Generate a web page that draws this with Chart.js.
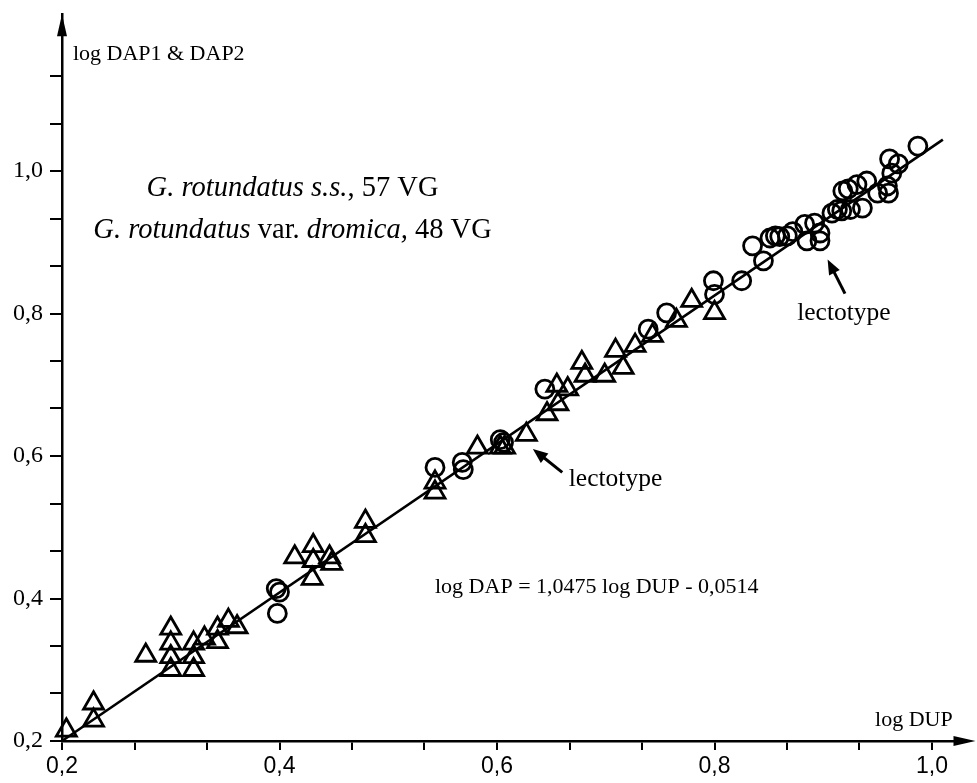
<!DOCTYPE html>
<html><head><meta charset="utf-8">
<script src="https://cdn.jsdelivr.net/npm/chart.js@4.4.0/dist/chart.umd.min.js"></script>
<style>html,body{margin:0;padding:0;background:#fff}#wrap{width:977px;height:783px;position:relative}</style>
</head><body><div id="wrap"><canvas id="c" width="977" height="783"></canvas></div>
<script>
// Circles (open)
const circleX = [0.397,0.400,0.398,0.543,0.568,0.569,0.603,0.606,0.644,0.739,0.756,0.799,0.800,0.825,0.835,0.845,0.851,0.856,0.860,0.867,0.872,0.883,0.885,0.892,0.897,0.897,0.908,0.913,0.917,0.925,0.936,0.918,0.923,0.931,0.940,0.950,0.959,0.960,0.963,0.961,0.969,0.987];
const circleY = [0.414,0.409,0.379,0.584,0.591,0.581,0.623,0.619,0.694,0.778,0.801,0.846,0.827,0.846,0.895,0.874,0.906,0.909,0.908,0.909,0.915,0.925,0.902,0.927,0.913,0.902,0.941,0.946,0.944,0.946,0.948,0.972,0.975,0.981,0.986,0.969,0.979,0.969,0.997,1.017,1.010,1.035];
// Triangles (open)
const triX = [0.204,0.229,0.229,0.277,0.300,0.300,0.300,0.300,0.321,0.321,0.321,0.331,0.343,0.343,0.353,0.361,0.414,0.431,0.431,0.430,0.446,0.448,0.479,0.479,0.543,0.543,0.582,0.603,0.607,0.627,0.646,0.655,0.656,0.665,0.678,0.681,0.699,0.709,0.716,0.727,0.743,0.765,0.779,0.800];
const triY = [0.215,0.253,0.229,0.320,0.358,0.337,0.318,0.300,0.337,0.318,0.300,0.344,0.358,0.339,0.369,0.360,0.458,0.474,0.453,0.428,0.458,0.449,0.508,0.488,0.563,0.549,0.612,0.612,0.612,0.630,0.659,0.699,0.673,0.694,0.731,0.713,0.713,0.748,0.724,0.755,0.769,0.790,0.818,0.801];
// Regression line as drawn
const fitX = [0.2, 1.01];
const fitY = [0.2, 1.044];
// Ticks
const xTicks = [0.2,0.2667,0.3333,0.4,0.4667,0.5333,0.6,0.6667,0.7333,0.8,0.8667,0.9333,1.0];
const yTicks = [0.2,0.2667,0.3333,0.4,0.4667,0.5333,0.6,0.6667,0.7333,0.8,0.8667,0.9333,1.0,1.0667,1.1333];
const majorTicks = [0.2,0.4,0.6,0.8,1.0];
const majorLabels = ['0,2','0,4','0,6','0,8','1,0'];
const X_MIN = 0.2, X_AXIS_END = 1.04, Y_MIN = 0.2, Y_MAX = 1.22;

const SERIF = '"Liberation Serif","Times New Roman",serif';
const SANS = '"Liberation Sans",Arial,sans-serif';

function labelFor(v){
  const i = majorTicks.findIndex(m => Math.abs(m - v) < 1e-3);
  return i >= 0 ? majorLabels[i] : '';
}

function drawRuns(ctx, runs, cx, cy, size){
  let total = 0;
  runs.forEach(r => { ctx.font = (r.i ? 'italic ' : '') + size + 'px ' + SERIF; r.w = ctx.measureText(r.t).width; total += r.w; });
  let x = cx - total/2;
  ctx.textAlign = 'left'; ctx.textBaseline = 'middle';
  runs.forEach(r => { ctx.font = (r.i ? 'italic ' : '') + size + 'px ' + SERIF; ctx.fillText(r.t, x, cy); x += r.w; });
}
function arrow(ctx, x1, y1, x2, y2, len, hw, lw){
  const a = Math.atan2(y2-y1, x2-x1);
  ctx.lineWidth = lw;
  ctx.beginPath(); ctx.moveTo(x1,y1); ctx.lineTo(x2 - Math.cos(a)*len*0.6, y2 - Math.sin(a)*len*0.6); ctx.stroke();
  ctx.beginPath();
  ctx.moveTo(x2,y2);
  ctx.lineTo(x2 - Math.cos(a)*len + Math.sin(a)*hw, y2 - Math.sin(a)*len - Math.cos(a)*hw);
  ctx.lineTo(x2 - Math.cos(a)*len - Math.sin(a)*hw, y2 - Math.sin(a)*len + Math.cos(a)*hw);
  ctx.closePath(); ctx.fill();
}

const annPlugin = {
  id: 'ann',
  afterDraw(chart){
    const {ctx, chartArea: a, scales: {x, y}} = chart;
    ctx.save();
    ctx.fillStyle = '#000'; ctx.strokeStyle = '#000';
    // axis extension + arrowheads
    const tipX = x.getPixelForValue(X_AXIS_END);
    ctx.lineWidth = 2.5;
    ctx.beginPath(); ctx.moveTo(a.right - 1, a.bottom); ctx.lineTo(tipX - 10, a.bottom); ctx.stroke();
    ctx.beginPath(); ctx.moveTo(a.left, a.top); ctx.lineTo(a.left-5, a.top+22); ctx.lineTo(a.left+5, a.top+22); ctx.closePath(); ctx.fill();
    ctx.beginPath(); ctx.moveTo(tipX, a.bottom); ctx.lineTo(tipX-22, a.bottom-5); ctx.lineTo(tipX-22, a.bottom+5); ctx.closePath(); ctx.fill();
    // axis titles
    ctx.font = '22px ' + SERIF; ctx.textBaseline = 'middle';
    ctx.textAlign = 'left'; ctx.fillText('log DAP1 & DAP2', x.getPixelForValue(0.210), y.getPixelForValue(1.164));
    ctx.textAlign = 'right'; ctx.fillText('log DUP', x.getPixelForValue(1.019), y.getPixelForValue(0.229));
    // legend text
    drawRuns(ctx, [{t:'G. rotundatus s.s.', i:true},{t:', 57 VG', i:false}], x.getPixelForValue(0.412), y.getPixelForValue(0.975), 28.5);
    drawRuns(ctx, [{t:'G. rotundatus', i:true},{t:' var. ', i:false},{t:'dromica,', i:true},{t:' 48 VG', i:false}], x.getPixelForValue(0.412), y.getPixelForValue(0.916), 28.5);
    // equation
    ctx.font = '22px ' + SERIF; ctx.textAlign = 'left';
    ctx.fillText('log DAP = 1,0475 log DUP - 0,0514', x.getPixelForValue(0.543), y.getPixelForValue(0.416));
    // lectotypes
    ctx.font = '25.5px ' + SERIF;
    ctx.textAlign = 'left'; ctx.fillText('lectotype', x.getPixelForValue(0.666), y.getPixelForValue(0.568));
    ctx.textAlign = 'center'; ctx.fillText('lectotype', x.getPixelForValue(0.919), y.getPixelForValue(0.801));
    arrow(ctx, x.getPixelForValue(0.660), y.getPixelForValue(0.577), x.getPixelForValue(0.633), y.getPixelForValue(0.610), 15, 6, 3);
    arrow(ctx, x.getPixelForValue(0.920), y.getPixelForValue(0.828), x.getPixelForValue(0.904), y.getPixelForValue(0.876), 15, 6, 3);
    ctx.restore();
  }
};

const toPts = (xs, ys) => xs.map((v, i) => ({x: v, y: ys[i]}));
const noPad = s => { s.paddingLeft = 0; s.paddingRight = 0; s.paddingTop = 0; s.paddingBottom = 0; };

const chart = new Chart(document.getElementById('c'), {
  type: 'scatter',
  data: {
    datasets: [
      {label:'fit', data: toPts(fitX, fitY), showLine: true, borderColor:'#000', borderWidth: 2.6, pointRadius: 0, clip: false},
      {label:'circles', data: toPts(circleX, circleY), pointStyle:'circle', pointRadius: 9, borderColor:'#000', borderWidth: 2.8, backgroundColor:'rgba(0,0,0,0)', clip: false},
      {label:'triangles', data: toPts(triX, triY), pointStyle:'triangle', pointRadius: 11.5, borderColor:'#000', borderWidth: 2.8, backgroundColor:'rgba(0,0,0,0)', clip: false}
    ]
  },
  options: {
    responsive: false, animation: false,
    layout: {padding: {top: 13, right: 1.5, left: 0, bottom: 0}},
    plugins: {legend: {display: false}, tooltip: {enabled: false}},
    scales: {
      x: {
        type: 'linear', min: X_MIN, max: X_AXIS_END,
        afterBuildTicks: s => { s.ticks = xTicks.map(v => ({value: v})); },
        afterFit: s => { s.height = 42; noPad(s); },
        grid: {display: true, drawOnChartArea: false, drawTicks: true, tickLength: 9, color: '#000', lineWidth: 2},
        border: {display: true, color: '#000', width: 2.5},
        ticks: {autoSkip: false, maxRotation: 0, padding: 3, color: '#000', font: {family: SANS, size: 23}, callback: v => labelFor(v)}
      },
      y: {
        type: 'linear', min: Y_MIN, max: Y_MAX,
        afterBuildTicks: s => { s.ticks = yTicks.map(v => ({value: v})); },
        afterFit: s => { s.width = 62; noPad(s); },
        grid: {display: true, drawOnChartArea: false, drawTicks: true, tickLength: 12, color: '#000', lineWidth: 2},
        border: {display: true, color: '#000', width: 2.5},
        ticks: {autoSkip: false, padding: 7, color: '#000', font: {family: SERIF, size: 24}, callback: v => labelFor(v)}
      }
    }
  },
  plugins: [annPlugin]
});
// Calibrate: the x axis should span X_MIN..X_AXIS_END across the canvas width (arrow tip at right edge)
const ca = chart.chartArea;
const pxPerUnit = (975.5 - ca.left) / (X_AXIS_END - X_MIN);
chart.options.scales.x.max = X_MIN + (ca.right - ca.left) / pxPerUnit;
chart.update();
</script>
</body></html>
